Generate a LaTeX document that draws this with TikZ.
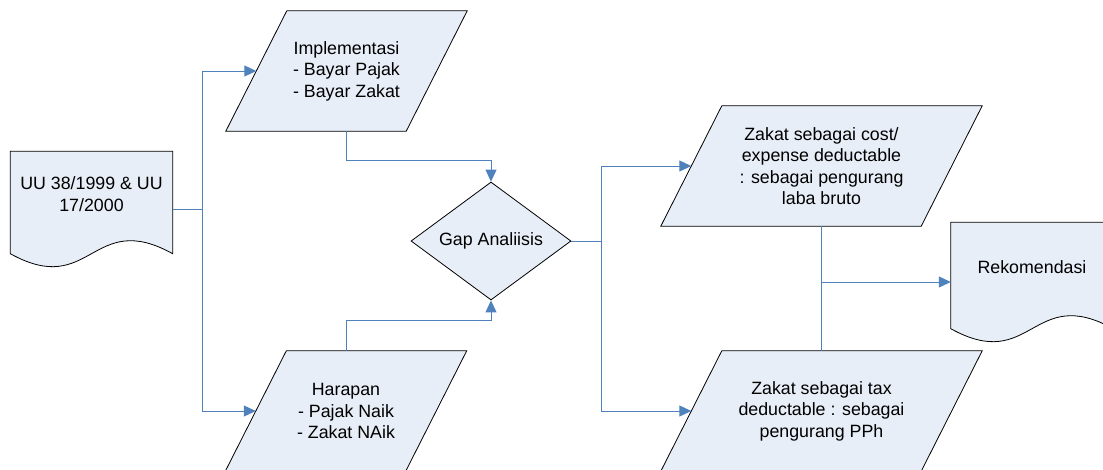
\documentclass[tikz,border=0pt]{standalone}
\usepackage{fontspec}
\setmainfont{Liberation Sans}
\usepackage{tikz}
\usetikzlibrary{shapes.geometric,arrows.meta,calc,backgrounds}
\definecolor{shapefill}{RGB}{232,238,247}
\definecolor{flowblue}{RGB}{79,129,189}

\begin{document}
\begin{tikzpicture}[
    x=1pt, y=-1pt,
    every node/.style={font=\fontsize{17.8pt}{21.5pt}\selectfont, align=center},
    iobox/.style={rectangle, minimum height=120pt, inner sep=0pt},
    docbox/.style={rectangle, minimum width=162pt, inner sep=0pt},
    decision/.style={diamond, draw, fill=shapefill, line width=0.8pt, aspect=1.36, minimum width=160pt, minimum height=118pt, inner sep=0pt},
    outline/.style={draw, fill=shapefill, line width=0.8pt},
    flow/.style={draw=flowblue, line width=1pt},
    arrow/.style={flow, -{Triangle[length=12pt, width=11pt]}}
]
\useasboundingbox (0, 0) rectangle (1103, 469);

% Document shapes
\node[docbox, minimum height=115pt] (uu) at (91.5, 209) {};
\node[docbox, minimum height=119pt] (rek) at (1032, 282) {};
\node (uu text) at ([yshift=15pt]uu.center) {UU 38/1999 \& UU\\17/2000};
\node (rek text) at ([yshift=15pt]rek.center) {Rekomendasi};

% Input/output shapes
\node[iobox, minimum width=241pt] (impl) at (346.5, 71) {Implementasi\\- Bayar Pajak\\- Bayar Zakat};
\node[iobox, minimum width=241pt] (harp) at (346, 411) {Harapan\\- Pajak Naik\\- Zakat NAik};
\node[iobox, minimum width=321pt] (zk1) at (821.5, 166) {Zakat sebagai cost/\\expense deductable\\: sebagai pengurang\\laba bruto};
\node[iobox, minimum width=321pt] (zk2) at (821.5, 411) {Zakat sebagai tax\\deductable : sebagai\\pengurang PPh};

% Decision
\node[decision] (gap) at (491, 241) {Gap Analiisis};

% Outlines behind the texts
\begin{scope}[on background layer]
\foreach \d in {uu, rek} {
    \draw[outline] ([yshift=13pt]\d.south west) -- (\d.north west) -- (\d.north east) -- ([yshift=13pt]\d.south east)
        .. controls ([yshift=58pt]\d.south) and ([yshift=-32pt]\d.south) .. ([yshift=13pt]\d.south west) -- cycle;
}
\foreach \n in {impl, harp, zk1, zk2} {
    \draw[outline] (\n.south west) -- ([xshift=61pt]\n.north west) -- (\n.north east) -- ([xshift=-61pt]\n.south east) -- cycle;
}
\end{scope}

% Connectors
\coordinate (j1) at (202, 209);
\coordinate (j2) at (601, 241);
\draw[flow] (uu.east) -- (j1);
\draw[arrow] (j1) |- ([xshift=30.5pt]impl.west);
\draw[arrow] (j1) |- ([xshift=30.5pt]harp.west);
\draw[arrow] (impl.south) -- ++(0, 29) -| (gap.north);
\draw[arrow] (harp.north) -- ++(0, -30) -| (gap.south);
\draw[flow] (gap.east) -- (j2);
\draw[arrow] (j2) |- ([xshift=30.5pt]zk1.west);
\draw[arrow] (j2) |- ([xshift=30.5pt]zk2.west);
\draw[flow] (zk1.south) -- (zk2.north);
\draw[arrow] (zk1.south |- rek.west) -- (rek.west);
\end{tikzpicture}
\end{document}
